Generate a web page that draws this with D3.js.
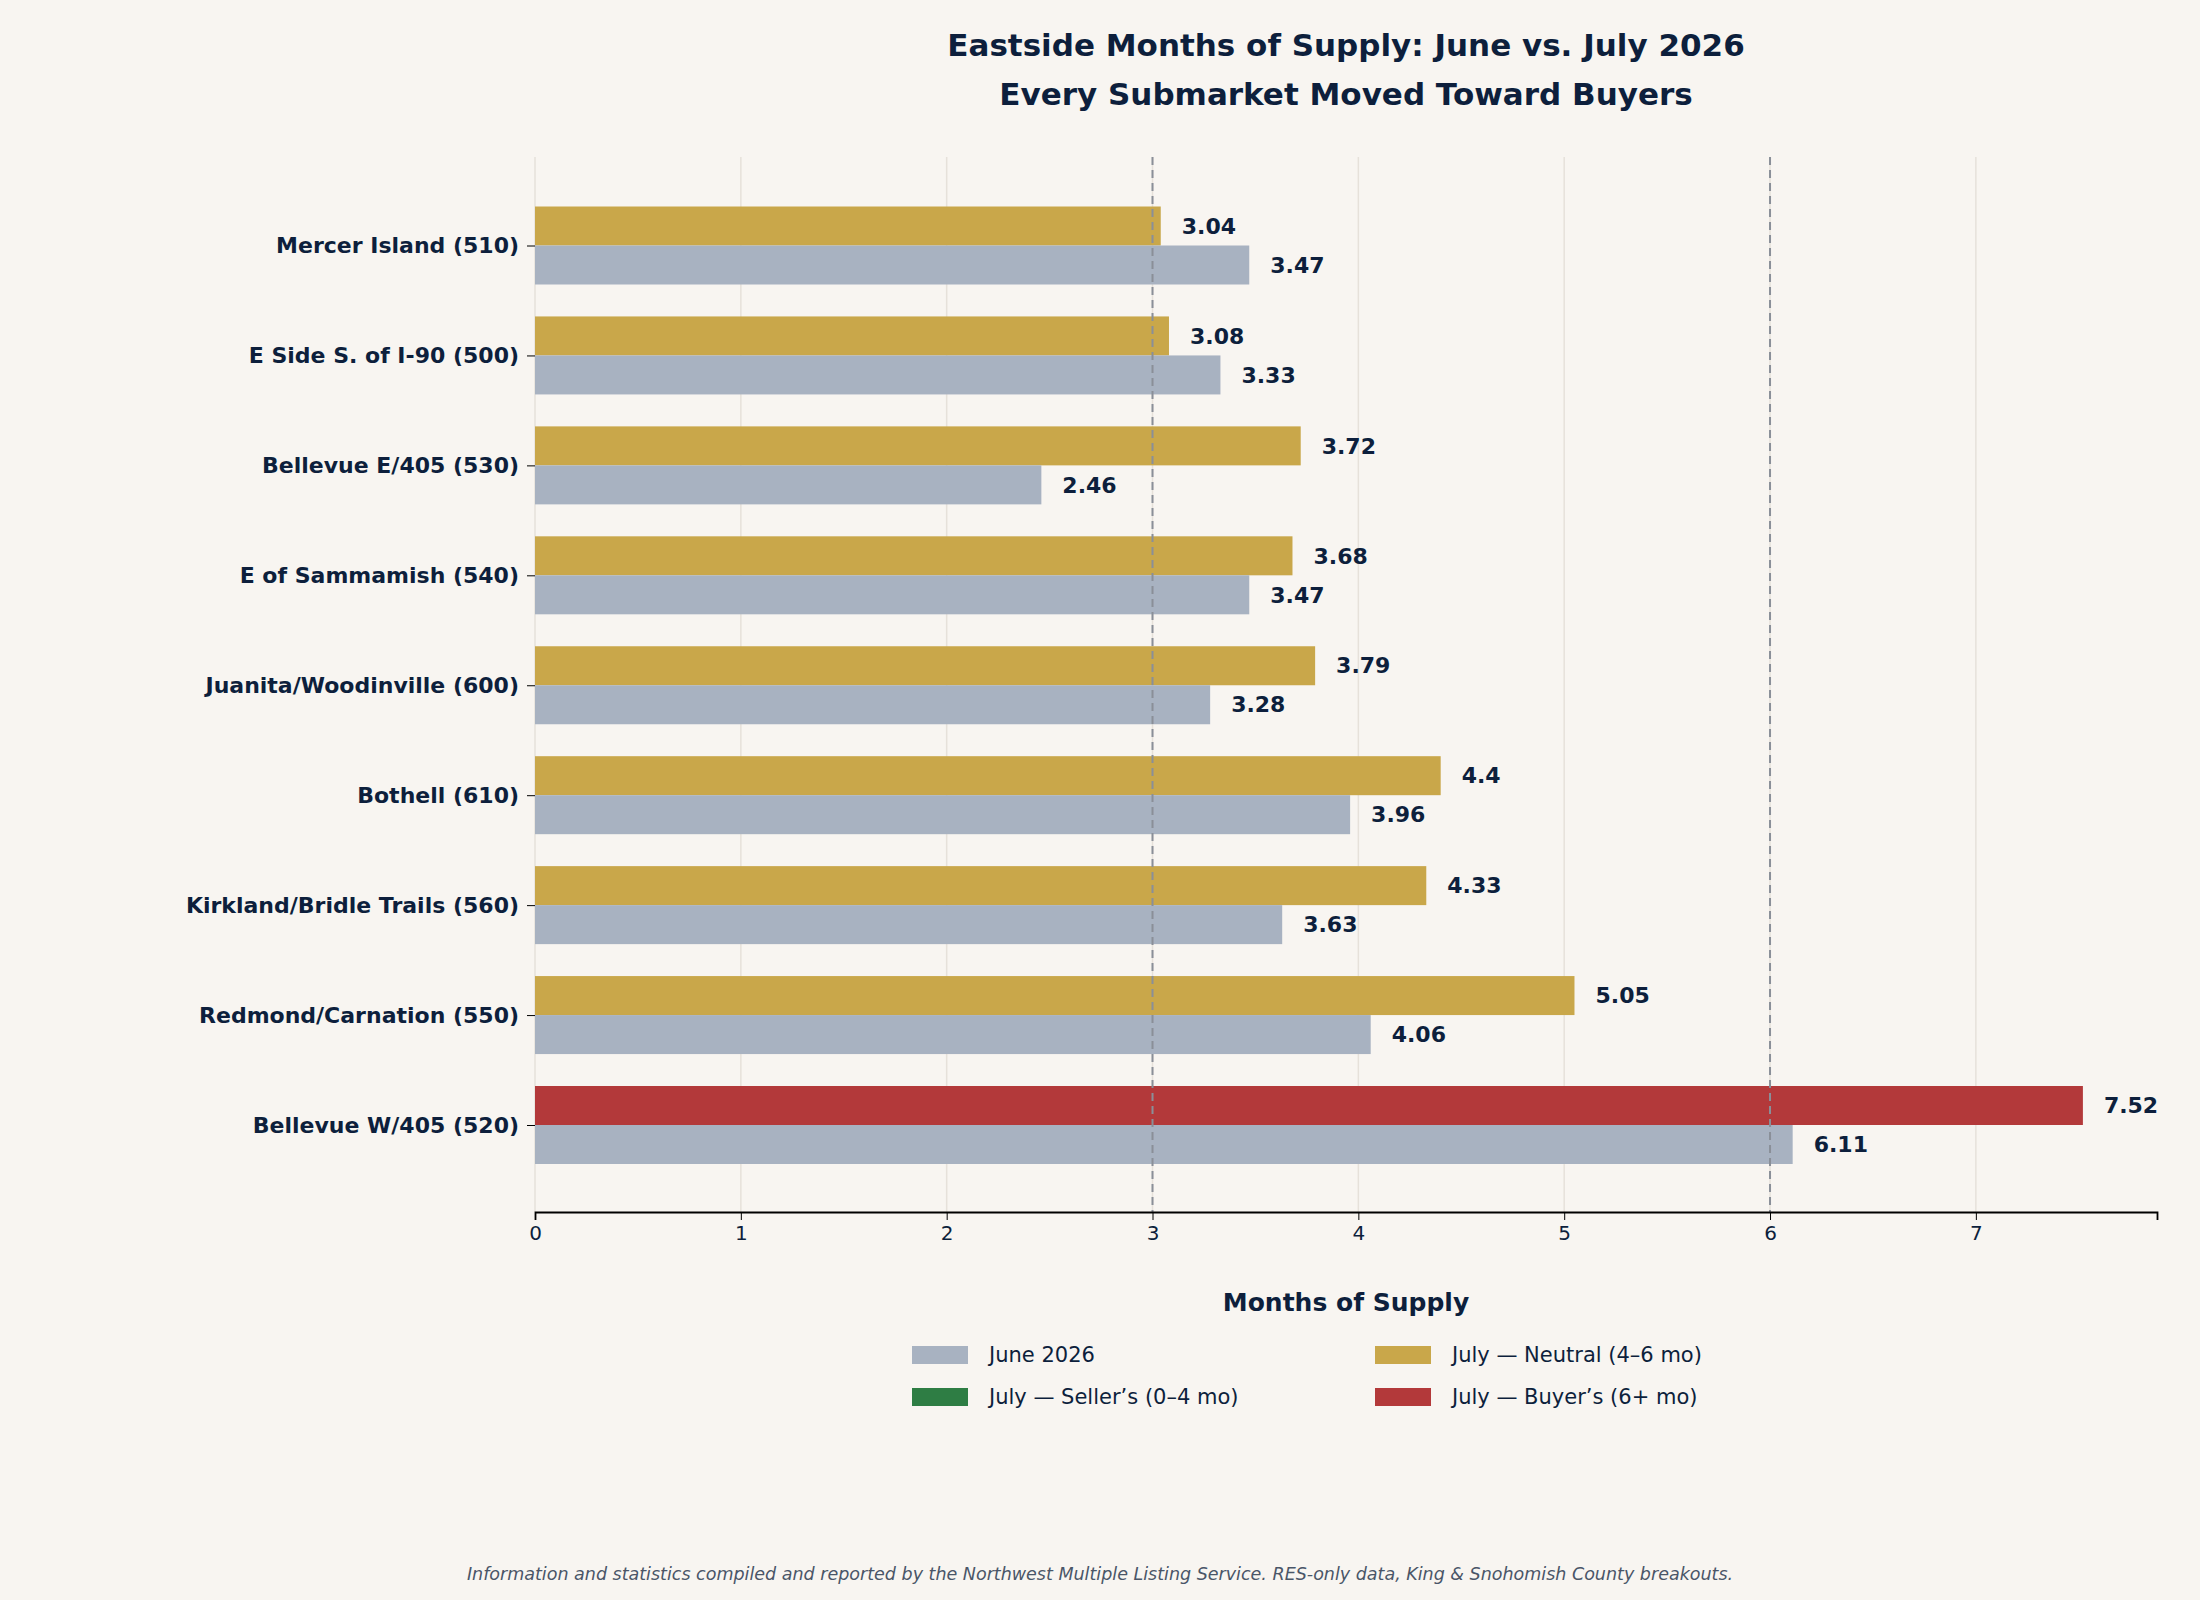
<!DOCTYPE html>
<html><head><meta charset="utf-8">
<script src="https://cdn.jsdelivr.net/npm/d3@7"></script>
<style>body{margin:0;background:#f8f5f1;font-family:"DejaVu Sans",sans-serif;}</style>
</head><body><div id="chart"></div>
<script>
const W = 2200, H = 1600;
const navy = "#0d1f3c";

const areas = ["Mercer Island (510)", "E Side S. of I-90 (500)", "Bellevue E/405 (530)", "E of Sammamish (540)",
  "Juanita/Woodinville (600)", "Bothell (610)", "Kirkland/Bridle Trails (560)", "Redmond/Carnation (550)", "Bellevue W/405 (520)"];
const june = [3.47, 3.33, 2.46, 3.47, 3.28, 3.96, 3.63, 4.06, 6.11];
const july = [3.04, 3.08, 3.72, 3.68, 3.79, 4.4, 4.33, 5.05, 7.52];
const xTicks = [0, 1, 2, 3, 4, 5, 6, 7];
const thresholds = [3, 6];

const colJune = "#a8b2c1", colSeller = "#2e7d44", colNeutral = "#c9a74a", colBuyer = "#b3393a";
const julyColor = v => v >= 6 ? colBuyer : (v >= 3 ? colNeutral : colSeller);

const svg = d3.select("#chart").append("svg").attr("width", W).attr("height", H)
  .style("background", "#f8f5f1").style("font-family", "DejaVu Sans");

const x = d3.scaleLinear().domain([0, 7.88]).range([535, 2157]);
const y = d3.scalePoint().domain(areas).range([245.5, 1125]);
const plotTop = 157, plotBottom = 1212, bh = 39;

// grid
svg.append("g").selectAll("line").data(xTicks).join("line")
  .attr("x1", d => x(d)).attr("x2", d => x(d)).attr("y1", plotTop).attr("y2", plotBottom)
  .attr("stroke", "#e6e1da").attr("stroke-width", 1.5);

// bars
const rows = areas.map((a, i) => ({a, june: june[i], july: july[i]}));
const g = svg.append("g");
g.selectAll(".jul").data(rows).join("rect")
  .attr("x", x(0)).attr("y", d => y(d.a) - bh).attr("width", d => x(d.july) - x(0)).attr("height", bh)
  .attr("fill", d => julyColor(d.july));
g.selectAll(".jun").data(rows).join("rect")
  .attr("x", x(0)).attr("y", d => y(d.a)).attr("width", d => x(d.june) - x(0)).attr("height", bh)
  .attr("fill", colJune);

// thresholds
svg.append("g").selectAll("line").data(thresholds).join("line")
  .attr("x1", d => x(d)).attr("x2", d => x(d)).attr("y1", plotTop).attr("y2", plotBottom)
  .attr("stroke", "#8a8f98").attr("stroke-width", 2).attr("stroke-dasharray", "8,5");

// value labels
const lab = svg.append("g").attr("font-size", 22).attr("font-weight", "bold").attr("fill", navy);
lab.selectAll(".lj").data(rows).join("text")
  .attr("x", d => x(d.july) + 21).attr("y", d => y(d.a) - bh / 2).attr("dy", "0.35em").text(d => d.july);
lab.selectAll(".ln").data(rows).join("text")
  .attr("x", d => x(d.june) + 21).attr("y", d => y(d.a) + bh / 2).attr("dy", "0.35em").text(d => d.june);

// axes
const xa = svg.append("g").attr("transform", `translate(0,${plotBottom})`)
  .call(d3.axisBottom(x).tickValues(xTicks).tickSize(8).tickPadding(6));
xa.select(".domain").attr("stroke", "#000").attr("stroke-width", 1.8);
xa.selectAll("text").attr("font-size", 20).attr("fill", navy).attr("font-family", "DejaVu Sans");
const ya = svg.append("g").attr("transform", `translate(${x(0)},0)`)
  .call(d3.axisLeft(y).tickSize(8).tickPadding(8));
ya.select(".domain").remove();
ya.selectAll("text").attr("font-size", 22).attr("font-weight", "bold").attr("fill", navy).attr("font-family", "DejaVu Sans");

// titles
svg.append("text").attr("x", 1346).attr("y", 56).attr("text-anchor", "middle").attr("font-size", 31)
  .attr("font-weight", "bold").attr("fill", navy).text("Eastside Months of Supply: June vs. July 2026");
svg.append("text").attr("x", 1346).attr("y", 105).attr("text-anchor", "middle").attr("font-size", 31)
  .attr("font-weight", "bold").attr("fill", navy).text("Every Submarket Moved Toward Buyers");
svg.append("text").attr("x", 1346).attr("y", 1311).attr("text-anchor", "middle").attr("font-size", 25)
  .attr("font-weight", "bold").attr("fill", navy).text("Months of Supply");

// legend
const legend = [
  {t: "June 2026", c: colJune, x: 912, y: 1355},
  {t: "July — Neutral (4–6 mo)", c: colNeutral, x: 1375, y: 1355},
  {t: "July — Seller’s (0–4 mo)", c: colSeller, x: 912, y: 1397},
  {t: "July — Buyer’s (6+ mo)", c: colBuyer, x: 1375, y: 1397}
];
const lg = svg.append("g").selectAll("g").data(legend).join("g").attr("transform", d => `translate(${d.x},${d.y})`);
lg.append("rect").attr("x", 0).attr("y", -9).attr("width", 56).attr("height", 18).attr("fill", d => d.c);
lg.append("text").attr("x", 77).attr("dy", "0.35em").attr("font-size", 21).attr("fill", navy).text(d => d.t);

svg.append("text").attr("x", 1100).attr("y", 1580).attr("text-anchor", "middle").attr("font-size", 17.5)
  .attr("font-style", "italic").attr("fill", "#4a5668")
  .text("Information and statistics compiled and reported by the Northwest Multiple Listing Service. RES-only data, King & Snohomish County breakouts.");
</script></body></html>
